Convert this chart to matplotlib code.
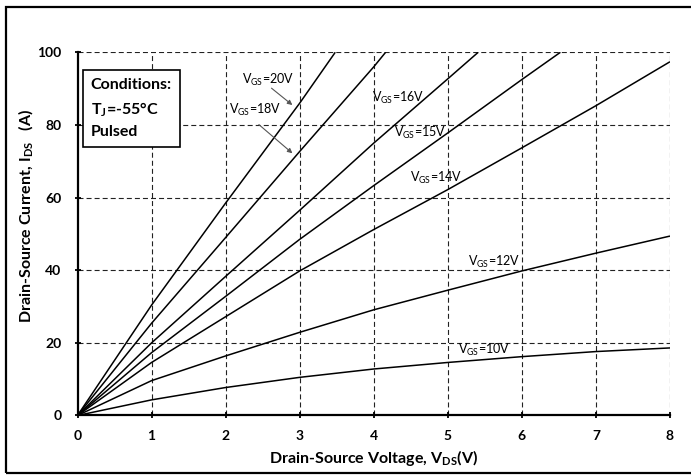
import matplotlib
matplotlib.use('Agg')
import matplotlib.pyplot as plt
from matplotlib.patches import Rectangle

plt.rcParams['font.family'] = ['Lato', 'DejaVu Sans']
plt.rcParams['mathtext.fontset'] = 'custom'
plt.rcParams['mathtext.rm'] = 'Lato'
plt.rcParams['mathtext.bf'] = 'Lato:bold'
plt.rcParams['lines.scale_dashes'] = False

# output curves (Tj = -55C)
vds_20 = [0, 1, 2, 3, 3.48]
ids_20 = [0, 30.4, 58.5, 86.0, 100]
vds_18 = [0, 1, 2, 3, 4, 4.16]
ids_18 = [0, 25.4, 49.0, 72.7, 96.0, 100]
vds_16 = [0, 1, 2, 3, 4, 5, 5.41]
ids_16 = [0, 20.0, 38.3, 56.5, 75.0, 92.7, 100]
vds_15 = [0, 1, 2, 3, 4, 5, 6, 6.52]
ids_15 = [0, 17.3, 32.8, 48.5, 63.3, 77.8, 92.5, 100]
vds_14 = [0, 1, 2, 3, 4, 5, 6, 7, 8]
ids_14 = [0, 14.6, 27.2, 39.8, 51.2, 62.2, 73.7, 85.3, 97.4]
vds_12 = [0, 1, 2, 3, 4, 5, 6, 7, 8]
ids_12 = [0, 9.6, 16.4, 22.9, 29.1, 34.5, 39.8, 44.7, 49.4]
vds_10 = [0, 1, 2, 3, 4, 5, 6, 7, 8]
ids_10 = [0, 4.3, 7.7, 10.5, 12.8, 14.6, 16.2, 17.6, 18.6]

curves = [(vds_20, ids_20), (vds_18, ids_18), (vds_16, ids_16), (vds_15, ids_15),
          (vds_14, ids_14), (vds_12, ids_12), (vds_10, ids_10)]

x_ticks = [0, 1, 2, 3, 4, 5, 6, 7, 8]
y_ticks = [0, 20, 40, 60, 80, 100]

fig = plt.figure(figsize=(6.91, 4.75), dpi=100)
ax = fig.add_axes([0.1122, 0.1253, 0.8574, 0.7646])

for v, i in curves:
    ax.plot(v, i, color='black', lw=1.1, solid_capstyle='butt', zorder=3)

ax.set_xlim(0, 8)
ax.set_ylim(0, 100)
ax.set_xticks(x_ticks)
ax.set_yticks(y_ticks)

# dashed grid, including the top/right edges
for x in x_ticks[1:]:
    ax.axvline(x, color='#222222', lw=0.8, ls=(0, (3.6, 2.2)), zorder=1)
for y in y_ticks[1:]:
    ax.axhline(y, color='#222222', lw=0.8, ls=(0, (3.6, 2.2)), zorder=1)

for s in ['top', 'right']:
    ax.spines[s].set_visible(False)
for s in ['left', 'bottom']:
    ax.spines[s].set_linewidth(1.6)
ax.tick_params(direction='inout', length=5, width=1.3, labelsize=10)
ax.tick_params(axis='x', pad=8)
ax.tick_params(axis='y', pad=9)
for lab in ax.get_xticklabels() + ax.get_yticklabels():
    lab.set_fontweight('bold')

ax.set_xlabel(r'Drain-Source Voltage, V$_{\mathbf{DS}}$(V)', fontsize=11.5,
              fontweight='bold', labelpad=4)
ax.set_ylabel(r'Drain-Source Current, I$_{\mathbf{DS}}$   (A)', fontsize=11.5,
              fontweight='bold')
ax.yaxis.set_label_coords(-0.07, 0.55)

# curve labels
lab_kw = dict(fontsize=9, ha='center', va='center', zorder=4)
ax.text(2.57, 92.4, r'V$_{\mathrm{GS}}$=20V', **lab_kw)
ax.text(2.40, 84.2, r'V$_{\mathrm{GS}}$=18V', **lab_kw)
ax.text(4.33, 87.5, r'V$_{\mathrm{GS}}$=16V', **lab_kw)
ax.text(4.63, 77.8, r'V$_{\mathrm{GS}}$=15V', **lab_kw)
ax.text(4.84, 65.4, r'V$_{\mathrm{GS}}$=14V', **lab_kw)
ax.text(5.63, 42.3, r'V$_{\mathrm{GS}}$=12V', **lab_kw)
ax.text(5.49, 18.0, r'V$_{\mathrm{GS}}$=10V', **lab_kw)

arrow_kw = dict(arrowstyle='-|>', color='#555555', lw=0.8, mutation_scale=7)
ax.annotate('', xy=(2.93, 85.0), xytext=(2.59, 90.6), arrowprops=arrow_kw)
ax.annotate('', xy=(2.93, 71.7), xytext=(2.42, 80.6), arrowprops=arrow_kw)

# conditions box
box_text = 'Conditions:\nT$_{\\mathbf{J}}$=-55°C\nPulsed'
ax.text(0.022, 0.93, box_text, transform=ax.transAxes, fontsize=11.5,
        fontweight='bold', va='top', ha='left', linespacing=1.6, zorder=5,
        bbox=dict(boxstyle='square,pad=0.5', fc='white', ec='black', lw=1.2))

# outer frame of the figure
fig.patches.append(Rectangle((6 / 691, 2 / 475), 1.0, 466 / 475, transform=fig.transFigure,
                             fill=False, ec='black', lw=1.6))

fig.savefig('out.png', dpi=100)
